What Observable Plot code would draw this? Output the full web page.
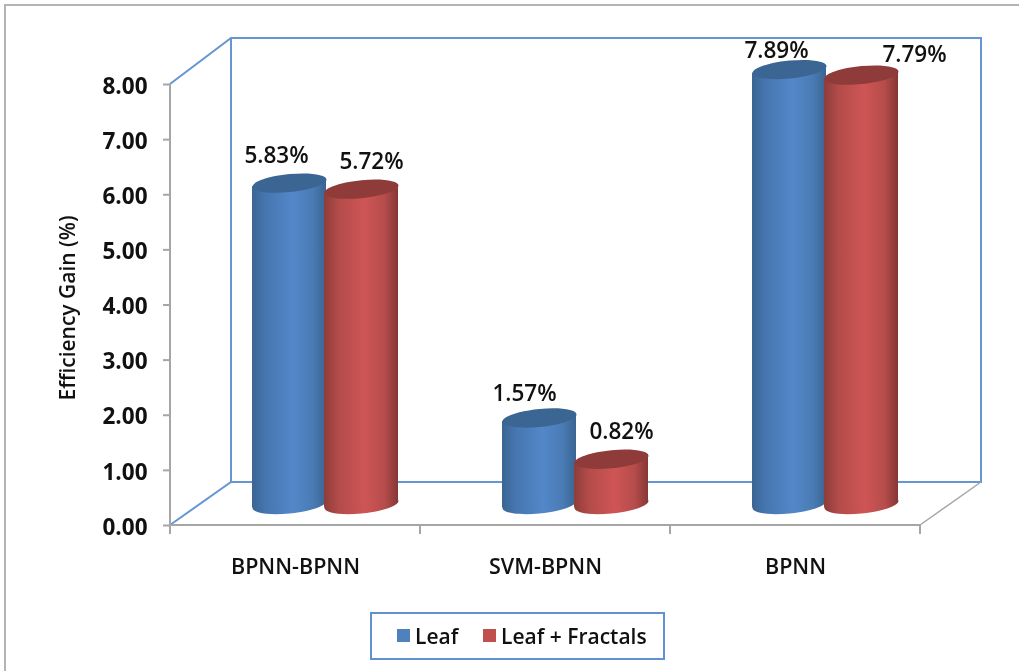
<!DOCTYPE html>
<html>
<head>
<meta charset="utf-8">
<script src="https://cdn.jsdelivr.net/npm/d3@7"></script>
<script src="https://cdn.jsdelivr.net/npm/@observablehq/plot@0.6"></script>
<style>
  html, body { margin: 0; padding: 0; background: #fff; }
  body { width: 1019px; height: 671px; position: relative; overflow: hidden; font-family: "Open Sans", sans-serif; }
  #chart { position: absolute; left: 0; top: 0; filter: blur(0.45px); }
  .edge { position: absolute; background: #b4b4b4; }
  #legend { position: absolute; left: 370px; top: 612px; width: 291px; height: 44px; border: 2px solid #5f92cf; background: #fff; color: #111; font-size: 21px; font-weight: 600; filter: blur(0.45px); }
  #legend span { position: absolute; white-space: nowrap; line-height: 44px; top: 0; }
  #legend i { position: absolute; width: 13px; height: 13px; top: 15px; }
</style>
</head>
<body>
<div id="chart"></div>
<div class="edge" style="left:4px;top:4px;width:2px;height:667px"></div>
<div class="edge" style="left:4px;top:4px;width:1015px;height:2px"></div>
<div id="legend"></div>
<script>
const categories = ["BPNN-BPNN", "SVM-BPNN", "BPNN"];
const leaf = [5.83, 1.57, 7.89];
const leafFractals = [5.72, 0.82, 7.79];
const seriesNames = ["Leaf", "Leaf + Fractals"];
const yTicks = [0, 1, 2, 3, 4, 5, 6, 7, 8];
const yLabel = "Efficiency Gain (%)";

const rows = (values) => categories.map((c, i) => ({ category: c, value: values[i] }));

// Presentation constants, kept apart from the data above
const BAR_DY = -21, BLUE_DX = -6, RED_DX = 66;
const RX = 37, RY = 9, SHEAR = Math.tan(5.5 * Math.PI / 180);
const FONT = 22.5;
const labelNudges = [[[-19, -48], [-21, -45], [-19, -40]], [[76, -48], [76, -49], [119, -41]]];

// A sheared ellipse used as the cylinder cap symbol
const cap = {
  draw(ctx) {
    const k = 0.5523;
    const p = (x, y) => [x, y - SHEAR * x];
    ctx.moveTo(...p(RX, 0));
    ctx.bezierCurveTo(...p(RX, RY * k), ...p(RX * k, RY), ...p(0, RY));
    ctx.bezierCurveTo(...p(-RX * k, RY), ...p(-RX, RY * k), ...p(-RX, 0));
    ctx.bezierCurveTo(...p(-RX, -RY * k), ...p(-RX * k, -RY), ...p(0, -RY));
    ctx.bezierCurveTo(...p(RX * k, -RY), ...p(RX, -RY * k), ...p(RX, 0));
    ctx.closePath();
  }
};

const skewBars = (index, scales, values, dimensions, context, next) => {
  const g = next(index, scales, values, dimensions, context);
  d3.select(g).selectAll("rect").attr("transform", function () {
    const cx = +this.getAttribute("x") + +this.getAttribute("width") / 2;
    return `translate(${cx},0) skewY(-5.5) translate(${-cx},0)`;
  });
  return g;
};

const defsMark = () => {
  const d = d3.create("svg:defs");
  d.html(`
    <linearGradient id="gBlue" x1="0" x2="1" y1="0" y2="0">
      <stop offset="0" stop-color="#3a6592"/><stop offset="0.18" stop-color="#4676b0"/>
      <stop offset="0.55" stop-color="#5387c9"/><stop offset="0.82" stop-color="#4a7bb4"/><stop offset="1" stop-color="#3a6592"/>
    </linearGradient>
    <linearGradient id="gRed" x1="0" x2="1" y1="0" y2="0">
      <stop offset="0" stop-color="#8e3c3a"/><stop offset="0.2" stop-color="#b34c4a"/>
      <stop offset="0.55" stop-color="#cf5555"/><stop offset="0.82" stop-color="#b54c4b"/><stop offset="1" stop-color="#853735"/>
    </linearGradient>`);
  return d.node();
};

// 3D walls, floor and axis lines, placed from the scales
const wallsMark = (index, { x, y }) => {
  const blue = "#6596d2", gray = "#a6a6a6";
  const left = x.range()[0], right = x.range()[1];
  const y0 = y(0), y8 = y(8);
  const depthX = 61, floorY = y0 - 43, topY = y8 - 46;
  const g = d3.create("svg:g").attr("fill", "none");
  const line = (pts, col, w) => g.append("path").attr("d", d3.line()(pts)).attr("stroke", col).attr("stroke-width", w);
  line([[left, y8], [left + depthX, topY], [right + depthX, topY], [right + depthX, floorY], [left + depthX, floorY], [left, y0]], blue, 2);
  line([[left + depthX, topY], [left + depthX, floorY]], blue, 2);
  line([[right, y0], [right + depthX, floorY]], gray, 1.5);
  line([[left, y8], [left, y0]], gray, 2);
  line([[left, y0], [right, y0]], gray, 2);
  const step = (right - left) / categories.length;
  d3.range(categories.length + 1).forEach((i) => line([[left + i * step, y0], [left + i * step, y0 + 9]], gray, 2));
  return g.node();
};

const cylinder = (values, gradient, topColor, dx) => {
  const data = rows(values);
  return [
    Plot.dot(data, { x: "category", y: () => 0, symbol: cap, fill: `url(#${gradient})`, stroke: "none", dx, dy: BAR_DY }),
    Plot.barY(data, { x: "category", y: "value", fill: `url(#${gradient})`, dx, dy: BAR_DY, render: skewBars }),
    Plot.dot(data, { x: "category", y: "value", symbol: cap, fill: topColor, stroke: "none", dx, dy: BAR_DY })
  ];
};

const valueLabels = [leaf, leafFractals].flatMap((values, s) =>
  rows(values).map((d, i) =>
    Plot.text([d], {
      x: "category", y: "value", text: (r) => r.value.toFixed(2) + "%",
      dx: labelNudges[s][i][0], dy: labelNudges[s][i][1],
      fontSize: FONT, fontWeight: 600, fill: "#111"
    })
  )
);

const plot = Plot.plot({
  width: 1019,
  height: 671,
  marginLeft: 170,
  marginRight: 99,
  marginTop: 84,
  marginBottom: 146,
  style: { background: "transparent", fontFamily: '"Open Sans", sans-serif', color: "#111" },
  x: { type: "band", domain: categories, paddingInner: 0.704, paddingOuter: 0.352, label: null },
  y: { domain: [0, 8], label: null },
  marks: [
    defsMark,
    wallsMark,
    Plot.axisY({ ticks: yTicks, tickFormat: d3.format(".2f"), tickSize: 7, tickPadding: 16, stroke: "#a6a6a6", strokeWidth: 2, fontSize: 22.5, fontWeight: 700, fill: "#111", label: null }),
    Plot.axisX({ tickSize: 0, tickPadding: 33, fontSize: 21.5, fontWeight: 600, fill: "#111", label: null }),
    Plot.text([yLabel], { frameAnchor: "left", textAnchor: "middle", dx: -102, dy: 3, rotate: -90, fontSize: 21, fontWeight: 600, fill: "#111" }),
    ...cylinder(leaf, "gBlue", "#3b6693", BLUE_DX),
    ...cylinder(leafFractals, "gRed", "#8f3b39", RED_DX),
    ...valueLabels
  ]
});
// tick labels sit slightly below their ticks in the reference
d3.select(plot).selectAll('g[aria-label="y-axis tick label"]').attr("transform", function () {
  return (this.getAttribute("transform") || "") + " translate(0,2)";
});
document.getElementById("chart").append(plot);

const legend = d3.select("#legend");
const swatches = [["#4f81bd", 25], ["#c0504d", 111]];
seriesNames.forEach((name, i) => {
  legend.append("i").style("left", swatches[i][1] + "px").style("background", swatches[i][0]);
  legend.append("span").style("left", swatches[i][1] + 18 + "px").text(name);
});
</script>
</body>
</html>
